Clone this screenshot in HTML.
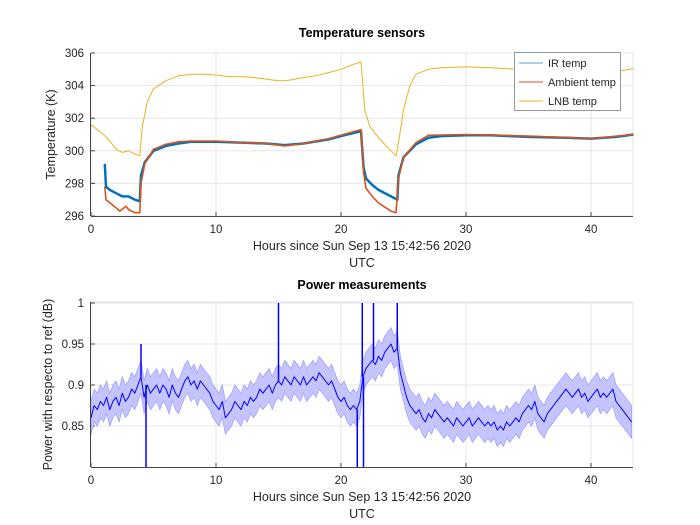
<!DOCTYPE html>
<html><head><meta charset="utf-8"><style>
body{margin:0;background:#fff}
svg{display:block;font-family:"Liberation Sans",sans-serif}
</style></head><body>
<svg id="fig" width="700" height="525" viewBox="0 0 700 525">
<g id="top"></g>
<g id="bot"></g>
</svg>
<script>
const lnbHours=[0,1,1.5,2,2.5,3,3.5,3.9,4.1,4.5,5,6,7,8,9,10,11,12,13,14,15,15.5,16,17,18,19,20,21,21.6,21.9,22.3,23,24,24.4,24.6,25,25.5,26,27,28,30,32,34,36,38,40,42,43.4];
const lnbTemp=[301.6,301.0,300.6,300.1,299.9,300.0,299.8,299.7,301.5,303.0,303.8,304.3,304.6,304.7,304.7,304.65,304.55,304.55,304.5,304.4,304.3,304.3,304.35,304.5,304.6,304.8,305.0,305.3,305.45,302.5,301.5,300.8,300.0,299.7,300.5,302.5,304.0,304.7,305.0,305.1,305.15,305.1,305.0,304.95,304.9,304.85,304.85,305.05];
const irHours=[1.1,1.2,1.5,2,2.5,3,3.5,3.9,4.0,4.3,5,6,7,8,10,12,14,15.5,17,19,20,21.6,21.8,22,22.5,23,24,24.5,24.6,25,26,27,28,30,32,35,38,40,42,43.4];
const irTemp=[299.2,297.8,297.6,297.4,297.2,297.2,297.0,296.9,298.5,299.3,300.0,300.3,300.45,300.55,300.55,300.5,300.45,300.35,300.45,300.7,300.9,301.2,299.0,298.3,297.9,297.6,297.2,297.0,298.5,299.6,300.4,300.8,300.9,300.95,300.95,300.85,300.8,300.75,300.85,301.0];
const ambHours=[1.1,1.2,2,2.3,2.8,3,3.5,3.9,4.0,4.3,5,6,7,8,10,12,14,15.5,17,19,21.6,21.8,22,22.5,23,24,24.4,24.6,25,26,27,30,35,40,43.4];
const ambTemp=[297.8,297.0,296.5,296.3,296.6,296.4,296.2,296.2,298,299.2,300.1,300.4,300.55,300.6,300.6,300.5,300.45,300.3,300.45,300.75,301.3,298.7,297.7,297.2,296.8,296.3,296.2,298.3,299.6,300.5,300.95,301.0,300.9,300.75,301.0];
const tempTicks=[296,298,300,302,304,306];
const hourTicks=[0,10,20,30,40];
const powerTicks=[0.85,0.9,0.95,1];
const powerStep=0.25;
const powerMean=[0.86,0.875,0.87,0.88, 0.875,0.885,0.87,0.88, 0.885,0.875,0.89,0.88, 0.885,0.895,0.89,0.9,
0.91,0.885,0.9,0.89, 0.895,0.9,0.89,0.9, 0.895,0.885,0.9,0.89, 0.885,0.895,0.905,0.91, 0.9,0.905,0.895,0.905,
0.9,0.895,0.89,0.88, 0.875,0.87,0.88,0.86, 0.865,0.87,0.88,0.875, 0.87,0.88,0.875,0.885, 0.88,0.885,0.895,0.89,
0.895,0.9,0.89,0.9, 0.905,0.9,0.91,0.905, 0.9,0.91,0.905,0.9, 0.91,0.9,0.905,0.91, 0.905,0.915,0.91,0.905,
0.9,0.905,0.895,0.885, 0.88,0.885,0.875,0.87, 0.875,0.87,0.88,0.91, 0.92,0.925,0.93,0.925, 0.935,0.93,0.94,0.945,
0.95,0.94,0.945,0.915, 0.9,0.885,0.875,0.87, 0.865,0.87,0.86,0.855, 0.865,0.86,0.87,0.865, 0.86,0.855,0.86,0.855,
0.85,0.86,0.855,0.85, 0.855,0.86,0.85,0.855, 0.86,0.855,0.85,0.855, 0.85,0.855,0.845,0.85, 0.845,0.855,0.85,0.855,
0.86,0.855,0.865,0.87, 0.875,0.87,0.88,0.865, 0.86,0.855,0.865,0.87, 0.875,0.88,0.885,0.89, 0.895,0.89,0.885,0.89,
0.895,0.885,0.89,0.88, 0.885,0.89,0.895,0.885, 0.89,0.885,0.89,0.895, 0.88,0.875,0.87,0.865, 0.86,0.855];
const powerBand=0.02;
const spikeHours=[4.0,4.4,15.0,21.3,21.7,21.8,22.6,24.5];
const spikeValues=[0.95,0.8,1.0,0.8,1.0,0.8,1.0,1.0];

const NS='http://www.w3.org/2000/svg';
function mk(p,tag,at,txt){const e=document.createElementNS(NS,tag);for(const k in at)e.setAttribute(k,at[k]);if(txt!==undefined)e.textContent=txt;p.appendChild(e);return e;}
const X0=91,X1=633;
const xs=h=>X0+h*12.5;
const gTop=document.getElementById('top'),gBot=document.getElementById('bot');
const yT=v=>216-(v-296)/10*163;
const yP=v=>467-(v-0.8)/0.2*164;

function axes(g,Y0,Y1,yTicks,yf,fmt,title,ylab,ty){
  const gr=mk(g,'g',{});
  
  
  hourTicks.forEach(h=>mk(gr,'line',{x1:xs(h),x2:xs(h),y1:Y0,y2:Y1,stroke:'#e6e6e6'}));
  yTicks.forEach(v=>mk(gr,'line',{x1:X0,x2:X1,y1:yf(v),y2:yf(v),stroke:'#e6e6e6'}));
  mk(gr,'line',{x1:X1,x2:X1,y1:Y0,y2:Y1,stroke:'#e6e6e6'});
  mk(gr,'line',{x1:X0,x2:X1,y1:Y0,y2:Y0,stroke:'#e6e6e6'});
  const xa=mk(g,'g',{});
  
  
  mk(xa,'line',{x1:X0,x2:X1,y1:Y1+0.5,y2:Y1+0.5,stroke:'#444'});
  hourTicks.forEach(h=>{mk(xa,'line',{x1:xs(h),x2:xs(h),y1:Y1,y2:Y1-4,stroke:'#444'});
    const t=mk(xa,'text',{x:xs(h),y:Y1+17,'text-anchor':'middle','font-size':'11.5',fill:'#262626'},String(h));
    
    });
  const ya=mk(g,'g',{});
  
  
  mk(ya,'line',{x1:X0-0.5,x2:X0-0.5,y1:Y0,y2:Y1,stroke:'#444'});
  yTicks.forEach(v=>{mk(ya,'line',{x1:X0,x2:X0+4,y1:yf(v),y2:yf(v),stroke:'#444'});
    const t=mk(ya,'text',{x:X0-7,y:yf(v)+4,'text-anchor':'end','font-size':'11.5',fill:'#262626'},fmt(v));
    
    });
  let t=mk(g,'text',{x:362,y:Y1+34,'text-anchor':'middle','font-size':'12.5',fill:'#262626'},'Hours since Sun Sep 13 15:42:56 2020');
  
  
  t=mk(g,'text',{x:362,y:Y1+51,'text-anchor':'middle','font-size':'12.5',fill:'#262626'},'UTC');
  
  
  t=mk(g,'text',{x:362,y:ty,'text-anchor':'middle','font-size':'12.5','font-weight':'bold',fill:'#000'},title);
  
  
  const cy=(Y0+Y1)/2;
  t=mk(g,'text',{x:0,y:0,transform:`translate(${ylab.x},${cy}) rotate(-90)`,'text-anchor':'middle','font-size':'12.5',fill:'#262626'},ylab.t);
  
  
}
axes(gTop,53,216,tempTicks,yT,v=>String(v),'Temperature sensors',{x:55,t:'Temperature (K)'},37);
axes(gBot,302,467,powerTicks,yP,v=>String(v),'Power measurements',{x:52,t:'Power with respecto to ref (dB)'},289);

function series(g,hs,vs,yf,col,w,name){
  const d=hs.map((h,i)=>(i?'L':'M')+xs(h).toFixed(1)+','+yf(vs[i]).toFixed(1)).join('');
  const p=mk(g,'path',{d,fill:'none',stroke:col,'stroke-width':w,'stroke-linejoin':'round'});
  
  
}
series(gTop,lnbHours,lnbTemp,yT,'#edb120',1,'lnb-temp-line');
series(gTop,irHours,irTemp,yT,'#0072bd',2.5,'ir-temp-line');
series(gTop,ambHours,ambTemp,yT,'#d95319',1.6,'ambient-temp-line');

const lg=mk(gTop,'g',{});


mk(lg,'rect',{x:514.5,y:52.5,width:106,height:58,fill:'#fff',stroke:'#999'});
[['IR temp','#4da6e0'],['Ambient temp','#d95319'],['LNB temp','#edb120']].forEach((e,i)=>{
  const y=63+i*19;
  const ge=mk(lg,'g',{});
  
  
  mk(ge,'line',{x1:519,x2:543,y1:y,y2:y,stroke:e[1]});
  mk(ge,'text',{x:548,y:y+4,'font-size':'11',fill:'#262626'},e[0]);
});

const cp=mk(gBot,'clipPath',{id:'pc'});mk(cp,'rect',{x:X0,y:302,width:X1-X0,height:165});
const pg=mk(gBot,'g',{'clip-path':'url(#pc)'});
const ph=powerMean.map((v,i)=>i*powerStep);
const up=ph.map((h,i)=>xs(h).toFixed(1)+','+yP(powerMean[i]+powerBand).toFixed(1));
const lo=ph.map((h,i)=>xs(h).toFixed(1)+','+yP(powerMean[i]-powerBand).toFixed(1)).reverse();
const band=mk(pg,'path',{d:'M'+up.join('L')+'L'+lo.join('L')+'Z',fill:'#c4c4ff',stroke:'#9a9aff','stroke-width':0.7});


series(pg,ph,powerMean,yP,'#0000ff',1,'power-mean-line');
spikeHours.forEach((h,i)=>{
  const m=powerMean[Math.min(powerMean.length-1,Math.round(h/powerStep))];
  const l=mk(pg,'line',{x1:xs(h),x2:xs(h),y1:yP(m),y2:yP(spikeValues[i]),stroke:'#0000ff','stroke-width':1.5});
  
  
});
</script>
</body></html>
